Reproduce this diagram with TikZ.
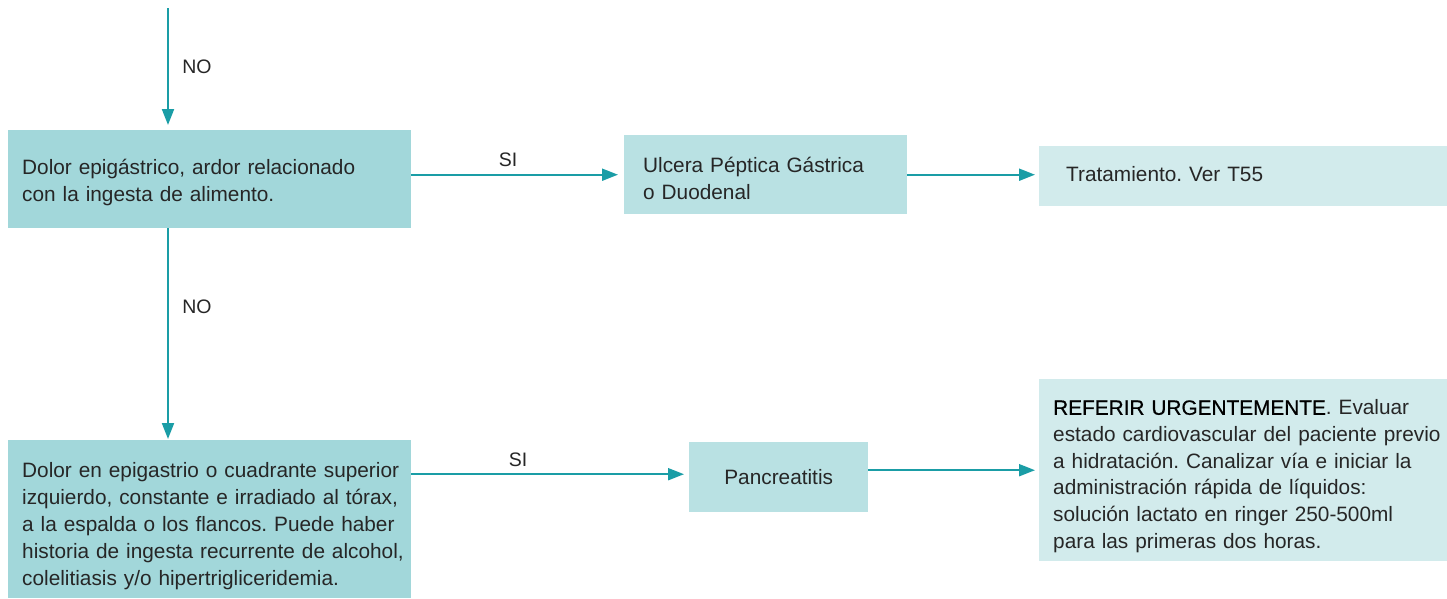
\documentclass[tikz,border=0pt]{standalone}
\usepackage{fontspec}
\setmainfont{Liberation Sans}
\newfontfamily\medfont[FakeBold=0.6]{Liberation Sans}
\usetikzlibrary{arrows.meta}
\definecolor{boxdark}{HTML}{A2D7DA}
\definecolor{boxmid}{HTML}{B9E1E3}
\definecolor{boxlight}{HTML}{D2EBEC}
\definecolor{arrowteal}{HTML}{1A9DA6}
\definecolor{txt}{HTML}{262626}
\frenchspacing
\newcommand{\upstrut}[1]{\rule{0pt}{#1}}
\begin{document}
\begin{tikzpicture}[x=1pt,y=-1pt,
  box/.style={anchor=north west, inner ysep=0pt, align=left, text=txt,
    font=\fontsize{20.8}{27}\selectfont},
  lbl/.style={text=txt, inner sep=0pt, font=\fontsize{19.5}{24}\selectfont},
  conn/.style={draw=arrowteal, line width=2pt, -{Triangle[length=16pt,width=12pt]}}]
\useasboundingbox (0,0) rectangle (1447,598);
\clip (0,0) rectangle (1447,598);

\node[box, fill=boxdark, inner xsep=14pt, text width=375pt, minimum height=98pt] (A) at (8,130)
  {\mbox{\upstrut{21pt}Dolor epigástrico, ardor relacionado}\\\mbox{con la ingesta de alimento.}};
\node[box, fill=boxmid, inner xsep=19pt, text width=245pt, minimum height=79pt] (B) at (624,135)
  {\mbox{\upstrut{23pt}Ulcera Péptica Gástrica}\\\mbox{o Duodenal}};
\node[box, fill=boxlight, inner xsep=27pt, text width=366pt, minimum height=60pt] (C) at (1039,146)
  {\mbox{Tratamiento. Ver T55\rule[-4pt]{0pt}{4pt}}};
\node[box, fill=boxdark, inner xsep=14pt, text width=375pt, minimum height=158pt] (D) at (8,440)
  {\mbox{\upstrut{29pt}Dolor en epigastrio o cuadrante superior}\\
   \mbox{izquierdo, constante e irradiado al tórax,}\\
   \mbox{a la espalda o los flancos. Puede haber}\\
   \mbox{historia de ingesta recurrente de alcohol,}\\
   \mbox{colelitiasis y/o hipertrigliceridemia.}};
\node[box, fill=boxmid, align=center, inner xsep=0pt, minimum width=179pt, minimum height=70pt] (E) at (689,442)
  {Pancreatitis};
\node[box, fill=boxlight, inner xsep=14pt, text width=392pt, minimum height=182pt,
  font=\fontsize{20.8}{26.7}\selectfont] (F) at (1039,379)
  {\mbox{\upstrut{27pt}{\medfont\color{black}REFERIR URGENTEMENTE}. Evaluar}\\
   \mbox{estado cardiovascular del paciente previo}\\
   \mbox{a hidratación. Canalizar vía e iniciar la}\\
   \mbox{administración rápida de líquidos:}\\
   \mbox{solución lactato en ringer 250-500ml}\\
   \mbox{para las primeras dos horas.}};

\coordinate (top) at (168,8);
\draw[conn, shorten >=5pt] (top) -- (top |- A.north);
\draw[conn, shorten >=1pt] (top |- A.south) -- (top |- D.north);
\draw[conn, shorten >=6pt] (A.east |- B.west) -- (B.west);
\draw[conn, shorten >=4pt] (B.east) -- (B.east -| C.west);
\draw[conn, shorten >=5pt] ([yshift=3pt]D.east |- E.west) -- ([yshift=3pt]E.west);
\draw[conn, shorten >=4pt] (E.east |- F.west) -- (F.west);

\node[lbl] (no1) at (197,67) {NO};
\node[lbl] (no2) at (197,307) {NO};
\node[lbl] (si1) at (508,160) {SI};
\node[lbl] (si2) at (518,460) {SI};
\end{tikzpicture}
\end{document}
